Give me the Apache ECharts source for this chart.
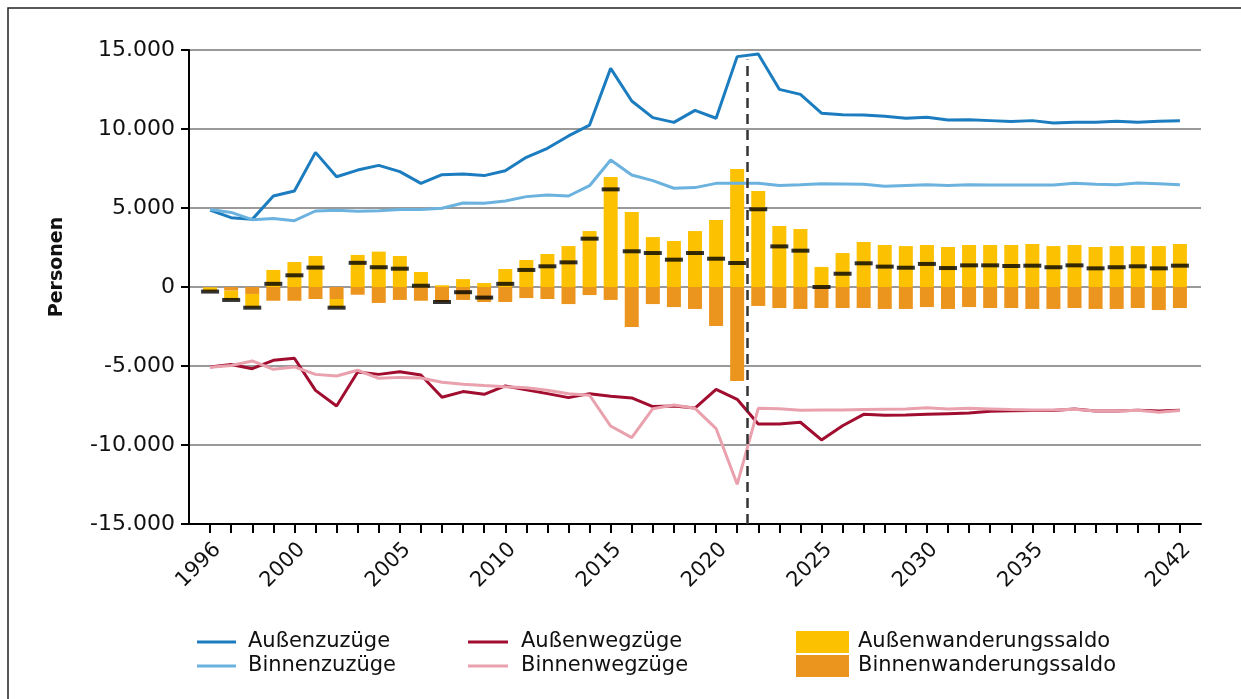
<!DOCTYPE html>
<html>
<head>
<meta charset="utf-8">
<script src="https://cdn.jsdelivr.net/npm/echarts@6/dist/echarts.min.js"></script>
<style>
  html, body { margin: 0; padding: 0; background: #fff; }
  #chartBox { width: 1241px; height: 699px; }
</style>
</head>
<body>
<div id="chartBox"></div>
<script>
// Jahre 1996 - 2042
const years = []
for (let y = 1996; y <= 2042; y++) years.push(y)

const xLabelYears = [1996, 2000, 2005, 2010, 2015, 2020, 2025, 2030, 2035, 2042]
const yTicks = [-15000, -10000, -5000, 0, 5000, 10000, 15000]
const prognoseStart = 2021.5

const aussenZuzuege = [
  4870, 4390, 4280, 5760, 6080, 8520, 6980, 7400, 7700, 7300,
  6560, 7110, 7150, 7050, 7360, 8210, 8780, 9560, 10250, 13840,
  11770, 10720, 10420, 11180, 10680, 14580, 14750, 12510, 12190, 11000,
  10900, 10890, 10800, 10680, 10740, 10570, 10590, 10530, 10470, 10530,
  10380, 10420, 10420, 10490, 10420, 10490, 10530
]
const binnenZuzuege = [
  4910, 4720, 4260, 4340, 4200, 4810, 4850, 4790, 4830, 4910,
  4900, 4980, 5320, 5300, 5440, 5720, 5820, 5760, 6410, 8040,
  7090, 6730, 6250, 6290, 6560, 6560, 6560, 6430, 6470, 6530,
  6520, 6500, 6370, 6430, 6470, 6430, 6470, 6450, 6450, 6450,
  6450, 6560, 6500, 6470, 6580, 6540, 6470
]
const aussenWegzuege = [
  -5060, -4910, -5170, -4640, -4510, -6540, -7530, -5380, -5530, -5360,
  -5570, -6980, -6620, -6790, -6260, -6500, -6750, -7000, -6750, -6920,
  -7020, -7570, -7530, -7660, -6480, -7110, -8670, -8670, -8560, -9680,
  -8780, -8060, -8120, -8100, -8060, -8020, -7980, -7870, -7830, -7810,
  -7810, -7720, -7850, -7850, -7800, -7850, -7800
]
const binnenWegzuege = [
  -5080, -4970, -4680, -5210, -5060, -5530, -5630, -5270, -5780, -5720,
  -5760, -6030, -6160, -6240, -6310, -6370, -6540, -6750, -6850, -8800,
  -9530, -7700, -7470, -7680, -8960, -12490, -7680, -7700, -7800, -7780,
  -7780, -7760, -7740, -7720, -7640, -7720, -7680, -7720, -7760, -7780,
  -7780, -7740, -7850, -7850, -7800, -7930, -7820
]
const aussenSaldo = [
  -260, -590, -870, 1080, 1580, 1960, -550, 2030, 2240, 1960,
  950, 110, 500, 250, 1140, 1710, 2090, 2590, 3540, 6960,
  4750, 3160, 2910, 3540, 4240, 7470, 6080, 3860, 3670, 1270,
  2150, 2850, 2660, 2590, 2660, 2530, 2660, 2660, 2660, 2720,
  2590, 2660, 2530, 2590, 2590, 2590, 2720
]
const binnenSaldo = [
  -20, -230, -440, -870, -870, -760, -760, -490, -1010, -820,
  -870, -950, -820, -950, -950, -700, -760, -1080, -510, -820,
  -2530, -1080, -1270, -1390, -2470, -5950, -1200, -1330, -1390, -1330,
  -1330, -1330, -1390, -1390, -1270, -1390, -1270, -1330, -1330, -1390,
  -1390, -1330, -1390, -1390, -1330, -1460, -1330
]
const gesamtSaldo = [
  -290, -820, -1310, 200, 740, 1230, -1310, 1530, 1250, 1160,
  80, -950, -330, -670, 200, 1080, 1310, 1560, 3060, 6180,
  2260, 2150, 1730, 2150, 1790, 1520, 4920, 2570, 2300, 0,
  840, 1500, 1290, 1220, 1460, 1200, 1370, 1370, 1330, 1350,
  1250, 1370, 1180, 1250, 1310, 1180, 1350
]

const FONT = 'DejaVu Sans'
const firstYear = years[0] - 1
const lastYear = years[years.length - 1] + 1
const pair = arr => years.map((y, i) => [y, arr[i]])
// Kategorieachse für die gestapelten Balken (ein leeres Jahr an jedem Rand)
const barCategories = [String(firstYear)].concat(years.map(String), [String(lastYear)])
const pad = arr => [null].concat(arr, [null])
const fmt = v => {
  const s = String(Math.abs(v)).replace(/\B(?=(\d{3})+(?!\d))/g, '.')
  return v < 0 ? '-' + s : s
}

const myChart = echarts.init(document.getElementById('chartBox'))

const lineSeries = (name, data, color) => ({
  name: name,
  type: 'line',
  data: pair(data),
  symbol: 'none',
  lineStyle: { color: color, width: 3 },
  itemStyle: { color: color },
  z: 4
})

const legendBase = {
  orient: 'vertical',
  icon: 'rect',
  itemGap: 0,
  selectedMode: false,
  textStyle: { fontFamily: FONT, fontSize: 21, color: '#111', lineHeight: 24 }
}

const chartOptions = {
  animation: false,
  backgroundColor: '#fff',
  grid: { left: 189, right: 40, top: 50, bottom: 175 },
  graphic: [
    {
      type: 'rect',
      shape: { x: 8, y: 8, width: 1300, height: 800 },
      style: { fill: 'none', stroke: '#222', lineWidth: 1.5 },
      silent: true
    },
    {
      type: 'text',
      x: 57,
      y: 267,
      rotation: Math.PI / 2,
      style: {
        text: 'Personen',
        font: 'bold 19px "DejaVu Sans"',
        fill: '#111',
        textAlign: 'center',
        textVerticalAlign: 'middle'
      }
    }
  ],
  legend: [
    Object.assign({}, legendBase, {
      data: ['Außenzuzüge', 'Binnenzuzüge'],
      left: 192, top: 625, itemWidth: 39, itemHeight: 3,
      textStyle: Object.assign({}, legendBase.textStyle, { padding: [0, 0, 0, 7] })
    }),
    Object.assign({}, legendBase, {
      data: ['Außenwegzüge', 'Binnenwegzüge'],
      left: 463, top: 625, itemWidth: 40, itemHeight: 3,
      textStyle: Object.assign({}, legendBase.textStyle, { padding: [0, 0, 0, 8] })
    }),
    Object.assign({}, legendBase, {
      data: ['Außenwanderungssaldo', 'Binnenwanderungssaldo'],
      left: 791, top: 625, itemWidth: 53, itemHeight: 22,
      textStyle: Object.assign({}, legendBase.textStyle, { padding: [0, 0, 0, 4] })
    })
  ],
  xAxis: [
    {
      type: 'value',
      min: firstYear,
      max: lastYear,
      interval: 1,
      splitLine: { show: false },
      axisLine: { show: true, onZero: false, lineStyle: { color: '#000', width: 2 } },
      axisTick: { show: true, length: 9, customValues: years, lineStyle: { color: '#000', width: 2 } },
      axisLabel: {
        customValues: xLabelYears,
        rotate: 45,
        margin: 15,
        align: 'right',
        verticalAlign: 'top',
        fontFamily: FONT,
        fontSize: 21,
        color: '#111',
        formatter: v => String(v)
      }
    },
    {
      type: 'category',
      show: false,
      boundaryGap: false,
      data: barCategories
    }
  ],
  yAxis: {
    type: 'value',
    min: yTicks[0],
    max: yTicks[yTicks.length - 1],
    interval: 5000,
    axisLine: { show: true, lineStyle: { color: '#000', width: 2 } },
    axisTick: { show: true, length: 8, lineStyle: { color: '#000', width: 2 } },
    splitLine: { show: true, lineStyle: { color: '#9a9a9a', width: 2 } },
    axisLabel: {
      margin: 14,
      fontFamily: FONT,
      fontSize: 22,
      color: '#111',
      formatter: v => fmt(v)
    }
  },
  series: [
    {
      name: 'Binnenwanderungssaldo',
      type: 'bar',
      xAxisIndex: 1,
      stack: 'saldo',
      data: pad(binnenSaldo),
      barWidth: 14,
      itemStyle: { color: '#EC951E' },
      z: 2
    },
    {
      name: 'Außenwanderungssaldo',
      type: 'bar',
      xAxisIndex: 1,
      stack: 'saldo',
      data: pad(aussenSaldo),
      barWidth: 14,
      itemStyle: { color: '#FCC100' },
      z: 2
    },
    lineSeries('Außenzuzüge', aussenZuzuege, '#1B7CBF'),
    lineSeries('Binnenzuzüge', binnenZuzuege, '#6BB2DF'),
    lineSeries('Außenwegzüge', aussenWegzuege, '#A10D2F'),
    lineSeries('Binnenwegzüge', binnenWegzuege, '#E9A1AE'),
    {
      name: 'Gesamtsaldo',
      type: 'scatter',
      data: pair(gesamtSaldo),
      symbol: 'rect',
      symbolSize: [18, 4],
      itemStyle: { color: '#000' },
      z: 5,
      markLine: {
        silent: true,
        symbol: 'none',
        label: { show: false },
        lineStyle: { color: '#333', width: 2.5, type: [10, 6] },
        data: [[{ coord: [prognoseStart, -15000] }, { coord: [prognoseStart, 14400] }]]
      }
    }
  ]
}

myChart.setOption(chartOptions)
</script>
</body>
</html>
